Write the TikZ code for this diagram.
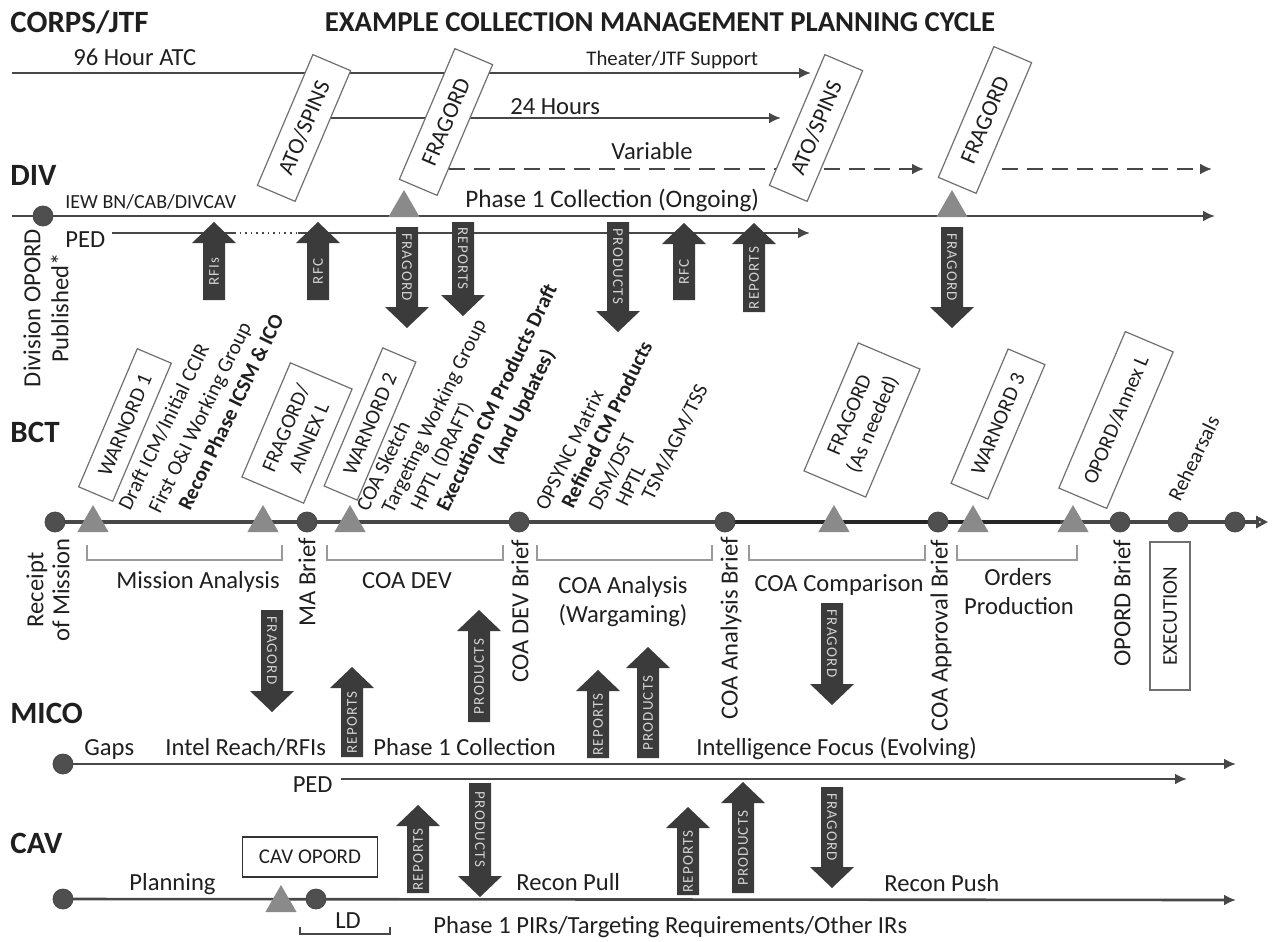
\documentclass[tikz,border=0pt]{standalone}
\usepackage{fontspec}
\setmainfont{Carlito}
\newfontfamily\arrfont[LetterSpace=8]{Carlito}
\usetikzlibrary{arrows.meta,positioning,shapes.geometric}
\definecolor{inkgray}{HTML}{1F1F1F}
\definecolor{linegray}{HTML}{474747}
\definecolor{dotgray}{HTML}{4F4F4F}
\definecolor{trigray}{HTML}{8A8A8A}
\definecolor{arrgray}{HTML}{3B3B3B}
\definecolor{arrtext}{HTML}{D2D2D2}
\definecolor{boxgray}{HTML}{707070}
\definecolor{brkgray}{HTML}{9A9A9A}
% block arrows: name, x, tail y, tip y, label
\newcommand{\blkup}[5]{%
  \fill[arrgray] (#2-11,#3) -- (#2+11,#3) -- (#2+11,#4+21) -- (#2+22,#4+21)
    -- (#2,#4) -- (#2-22,#4+21) -- (#2-11,#4+21) -- cycle;
  \node[blklbl, rotate=90] (#1) at (#2,{(#3+#4+21)/2}) {#5};}
\newcommand{\blkdn}[5]{%
  \fill[arrgray] (#2-11,#3) -- (#2+11,#3) -- (#2+11,#4-21) -- (#2+22,#4-21)
    -- (#2,#4) -- (#2-22,#4-21) -- (#2-11,#4-21) -- cycle;
  \node[blklbl, rotate=-90] (#1) at (#2,{(#3+#4-21)/2}) {#5};}

\begin{document}
\begin{tikzpicture}[x=0.5pt, y=-0.5pt, text=inkgray,
    hdr/.style={anchor=base west, inner sep=0, font=\fontsize{15.5}{18}\selectfont\bfseries},
    lbl/.style={inner sep=0, font=\fontsize{12.3}{15}\selectfont},
    smlbl/.style={inner sep=0, font=\fontsize{10.4}{12}\selectfont},
    brief/.style={lbl, rotate=90, anchor=east},
    tline/.style={inner sep=0, rotate=64, anchor=base west, font=\fontsize{10.5}{12}\selectfont},
    tlineb/.style={tline, font=\fontsize{10.5}{12}\selectfont\bfseries},
    tbox/.style={draw=boxgray, line width=0.6pt, fill=white, rotate=67, align=center,
                 inner sep=1pt, font=\fontsize{10.5}{12.5}\selectfont},
    corpsbox/.style={tbox, minimum width=71pt, minimum height=20.5pt, font=\fontsize{11.5}{13}\selectfont},
    tmline/.style={draw=linegray, line width=1.3pt},
    tlarr/.style={tmline, -{Latex[length=6pt, width=5.5pt]}},
    dashline/.style={tlarr, dash pattern=on 8pt off 4.5pt},
    evdot/.style={circle, fill=dotgray, draw=linegray, line width=0.4pt, minimum size=10pt, inner sep=0},
    evtri/.style={regular polygon, regular polygon sides=3, fill=trigray, minimum size=18pt, inner sep=0},
    brk/.style={draw=brkgray, line width=0.9pt},
    blklbl/.style={inner sep=0, text=arrtext, font=\fontsize{7.5}{8}\arrfont}]

\useasboundingbox (0,0) rectangle (1272,941);

\node[hdr] (corps) at (10,33) {CORPS/JTF};
\node[anchor=base, inner sep=0, font=\fontsize{14.4}{17}\selectfont\bfseries] (title) at (660,32)
  {EXAMPLE COLLECTION MANAGEMENT PLANNING CYCLE};
\node[hdr] (div) at (10,185) {DIV};
\node[hdr] (bct) at (10,442) {BCT};
\node[hdr] (mico) at (10,723) {MICO};
\node[hdr] (cav) at (10,853) {CAV};

% corps/jtf
\coordinate (atcS) at (12,73);   \coordinate (atcE) at (811,73);
\coordinate (dayS) at (330,118); \coordinate (dayE) at (781,118);
\coordinate (varS) at (449,169); \coordinate (varE) at (924,169);
\coordinate (varT) at (1002,169); \coordinate (varF) at (1212,169);
\draw[tlarr] (atcS) -- (atcE);
\draw[tlarr] (dayS) -- (dayE);
\draw[dashline] (varS) -- (varE);
\draw[dashline] (varT) -- (varF);
\node[lbl, anchor=base west] (atcLbl) at (73,66) {96 Hour ATC};
\node[smlbl, anchor=base west] (thtLbl) at (586,66) {Theater/JTF Support};
\node[lbl, anchor=base west] (dayLbl) at (510,115) {24 Hours};
\node[lbl, anchor=base west] (varLbl) at (611,160) {Variable};
\node[corpsbox] (atoA) at (304,128) {ATO/SPINS};
\node[corpsbox] (fragA) at (446,122) {FRAGORD};
\node[corpsbox] (atoB) at (816,128) {ATO/SPINS};
\node[corpsbox] (fragB) at (985,120) {FRAGORD};

% div
\coordinate (divS) at (12,216); \coordinate (divE) at (1215,216);
\draw[tlarr] (divS) -- (divE);
\coordinate (pedS) at (112,233); \coordinate (pedA) at (234,233);
\coordinate (pedB) at (298,233); \coordinate (pedE) at (810,233);
\draw[tmline] (pedS) -- (pedA);
\draw[tmline, line width=0.8pt, dotted] (pedA) -- (pedB);
\draw[tlarr] (pedB) -- (pedE);
\node[evdot] (divPub) at (43,216) {};
\node[evtri] (divTriA) at (404,208) {};
\node[evtri] (divTriB) at (952,208) {};
\node[lbl, anchor=base west, font=\fontsize{10}{12}\selectfont] (iew) at (65,208) {IEW BN/CAB/DIVCAV};
\node[lbl, anchor=base west, font=\fontsize{12.6}{15}\selectfont] (ph1div) at (465,207) {Phase 1 Collection (Ongoing)};
\node[lbl, anchor=base west] (pedDiv) at (65,247) {PED};
\node[lbl, rotate=90, align=center, font=\fontsize{12.3}{14}\selectfont] (divOpord) at (46,308) {Division OPORD\\Published*};

\blkup{rfiA}{214}{300}{222}{RFIs}
\blkup{rfcA}{318}{300}{222}{RFC}
\blkdn{fragDa}{407}{227}{328}{FRAGORD}
\blkdn{repDa}{463}{222}{316}{REPORTS}
\blkdn{prodDa}{618}{222}{332}{PRODUCTS}
\blkup{rfcB}{684}{300}{223}{RFC}
\blkup{repUa}{754}{312}{223}{REPORTS}
\blkdn{fragDb}{952}{227}{328}{FRAGORD}

% bct
\coordinate (bctS) at (55,522); \coordinate (bctE) at (1268,522);
\draw[tmline, line width=1.6pt, -{Triangle[open, length=6pt, width=6pt]}] (bctS) -- (bctE);
\coordinate (bctK) at (726,522); \coordinate (bctL) at (1060,522);
\draw[line width=1.8pt, draw=black!85] (bctK) -- (bctL);
\foreach \a/\b in {87/282, 327/503, 537/712, 749/925, 957/1077}
  \draw[brk] (\a,545) -- (\a,560) -- (\b,560) -- (\b,545);

\node[evdot] (rom) at (55,522) {};
\node[evtri] (triW1) at (93,523) {};
\node[evtri] (triFA) at (263,523) {};
\node[evdot] (maB) at (307,522) {};
\node[evtri] (triW2) at (350,523) {};
\node[evdot] (devB) at (519,522) {};
\node[evdot] (anaB) at (725,522) {};
\node[evtri] (triFN) at (834,523) {};
\node[evdot] (aprB) at (938,522) {};
\node[evtri] (triW3) at (973,523) {};
\node[evtri] (triOA) at (1073,523) {};
\node[evdot] (opB) at (1120,522) {};
\node[evdot] (rehB) at (1178,522) {};
\node[evdot] (endB) at (1235,522) {};

\node[tbox, minimum width=75pt, minimum height=18.5pt] (warn1) at (125,425) {WARNORD 1};
\node[tbox, minimum width=62pt, minimum height=33.5pt] (fragAnx) at (297,433) {FRAGORD/\\ANNEX L};
\node[tbox, minimum width=75pt, minimum height=18pt] (warn2) at (370,424) {WARNORD 2};
\node[tbox, minimum width=69.5pt, minimum height=33.5pt] (fragNeed) at (862,420) {FRAGORD\\(As needed)};
\node[tbox, minimum width=73pt, minimum height=20pt] (warn3) at (998,424) {WARNORD 3};
\node[tbox, minimum width=85pt, minimum height=26pt] (opAnx) at (1116,420) {OPORD/Annex L};

\node[tline] (t1a) at (130,512) {Draft ICM/Initial CCIR};
\node[tline] (t1b) at (160,515) {First O\&I Working Group};
\node[tlineb] (t1c) at (190,512) {Recon Phase ICSM \& ICO};
\node[tline] (t2a) at (368,513) {COA Sketch};
\node[tline] (t2b) at (393,515) {Targeting Working Group};
\node[tline] (t2c) at (422,512) {HPTL (DRAFT)};
\node[tlineb] (t2d) at (448,513) {Execution CM Products Draft};
\node[tlineb] (t2e) at (500,467) {(And Updates)};
\node[tline] (t3a) at (547,512) {OPSYNC Matrix};
\node[tlineb] (t3b) at (573,510) {Refined CM Products};
\node[tline] (t3c) at (600,512) {DSM/DST};
\node[tline] (t3d) at (627,508) {HPTL};
\node[tline] (t3e) at (653,502) {TSM/AGM/TSS};
\node[tline, font=\fontsize{10.5}{12}\selectfont] (reh) at (1180,503) {Rehearsals};

\node[lbl, anchor=base] (maLbl) at (198,588) {Mission Analysis};
\node[lbl, anchor=base] (devLbl) at (407,588) {COA DEV};
\node[lbl, anchor=base] (anaLbl) at (623,593) {COA Analysis};
\node[lbl, anchor=base] (warLbl) at (623,622) {(Wargaming)};
\node[lbl, anchor=base] (cmpLbl) at (839,591) {COA Comparison};
\node[lbl, anchor=base] (ordLbl) at (1018,585) {Orders};
\node[lbl, anchor=base] (prdLbl) at (1019,614) {Production};

\node[lbl, rotate=90, align=center, font=\fontsize{12.3}{13}\selectfont] (romTxt) at (48,590) {Receipt\\of Mission};
\node[brief] (maTxt) at (307,538) {MA Brief};
\node[brief] (devTxt) at (520,540) {COA DEV Brief};
\node[brief] (anaTxt) at (731,537) {COA Analysis Brief};
\node[brief] (aprTxt) at (941,540) {COA Approval Brief};
\node[brief] (opTxt) at (1122,540) {OPORD Brief};
\node[draw=boxgray, line width=0.6pt, rotate=90, minimum width=74pt, minimum height=20pt,
      inner sep=1pt, font=\fontsize{10.5}{12}\selectfont] (exec) at (1170,616) {EXECUTION};

% mico
\coordinate (micoS) at (63,764); \coordinate (micoE) at (1236,764);
\draw[tlarr] (micoS) -- (micoE);
\coordinate (pedMS) at (341,779); \coordinate (pedME) at (1187,779);
\draw[tlarr] (pedMS) -- (pedME);
\node[evdot] (micoDot) at (63,764) {};
\node[lbl, anchor=base west] (gaps) at (84,755) {Gaps};
\node[lbl, anchor=base west] (reach) at (165,755) {Intel Reach/RFIs};
\node[lbl, anchor=base west] (ph1mico) at (373,755) {Phase 1 Collection};
\node[lbl, anchor=base west] (focus) at (696,755) {Intelligence Focus (Evolving)};
\node[lbl, anchor=base east] (pedMico) at (333,792) {PED};

\blkdn{fragMa}{272}{610}{712}{FRAGORD}
\blkup{repMa}{352}{757}{667}{REPORTS}
\blkup{prodMa}{479}{722}{610}{PRODUCTS}
\blkup{repMb}{598}{758}{670}{REPORTS}
\blkup{prodMb}{648}{758}{647}{PRODUCTS}
\blkdn{fragMb}{832}{603}{705}{FRAGORD}

% cav
\coordinate (cavS) at (63,899); \coordinate (cavE) at (1236,900);
\draw[tlarr] (cavS) -- (cavE);
\node[evdot] (cavDot) at (63,899) {};
\node[evtri] (cavTri) at (281,903) {};
\node[evdot] (ldDot) at (316,899) {};
\node[draw=black!80, line width=0.6pt, minimum width=67.5pt, minimum height=20pt, inner sep=1pt,
      font=\fontsize{10.5}{12}\selectfont] (cavOp) at (310,857) {CAV OPORD};
\node[lbl, anchor=base west] (plan) at (129,890) {Planning};
\node[lbl, anchor=base west] (pull) at (516,890) {Recon Pull};
\node[lbl, anchor=base west] (push) at (884,891) {Recon Push};
\draw[line width=0.8pt, draw=linegray] (300,927) -- (300,934) -- (390,934) -- (390,927);
\node[lbl, anchor=base] (ld) at (348,928) {LD};
\node[lbl, anchor=base west] (pirs) at (433,933) {Phase 1 PIRs/Targeting Requirements/Other IRs};

\blkup{repCa}{418}{893}{805}{REPORTS}
\blkdn{prodCa}{480}{783}{897}{PRODUCTS}
\blkup{repCb}{688}{895}{807}{REPORTS}
\blkup{prodCb}{743}{893}{782}{PRODUCTS}
\blkdn{fragCa}{832}{787}{888}{FRAGORD}
\end{tikzpicture}
\end{document}
